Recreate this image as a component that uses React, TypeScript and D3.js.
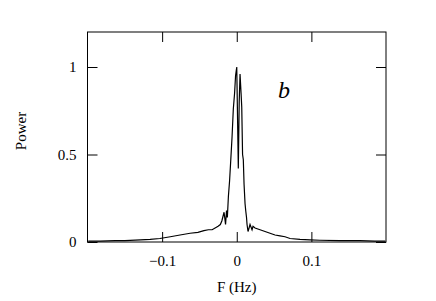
import React, { useEffect, useRef } from 'react';
import * as d3 from 'd3';

// frequency (Hz) and normalised power
const freq = [
  -0.199, -0.183, -0.163, -0.15, -0.129, -0.116, -0.103, -0.089, -0.076, -0.0625,
  -0.052, -0.044, -0.038, -0.033, -0.029, -0.025, -0.022, -0.02, -0.017, -0.015,
  -0.0137, -0.0126, -0.0112, -0.0096, -0.008, -0.0063, -0.0046, -0.0029, -0.0016, 0,
  0.0011, 0.0021, 0.0033, 0.0044, 0.0058, 0.0067, 0.0078, 0.0088, 0.0098, 0.0111,
  0.012, 0.0131, 0.0138, 0.0151, 0.0165, 0.0178, 0.0205, 0.0218, 0.0245, 0.0312,
  0.0379, 0.0446, 0.0513, 0.058, 0.0647, 0.0714, 0.0847, 0.098, 0.1115, 0.138,
  0.165, 0.185, 0.199,
];
const power = [
  0.005, 0.005, 0.008, 0.008, 0.012, 0.015, 0.02, 0.03, 0.04, 0.05,
  0.055, 0.065, 0.07, 0.07, 0.08, 0.09, 0.1, 0.12, 0.17, 0.1,
  0.18, 0.14, 0.26, 0.35, 0.47, 0.6, 0.76, 0.85, 0.95, 1.0,
  0.7, 0.42, 0.8, 0.96, 0.85, 0.77, 0.5, 0.47, 0.33, 0.22,
  0.18, 0.14, 0.1, 0.06, 0.08, 0.1, 0.07, 0.09, 0.08, 0.07,
  0.06, 0.05, 0.04, 0.035, 0.03, 0.02, 0.015, 0.012, 0.01, 0.008,
  0.008, 0.005, 0.005,
];
const xTicks = [-0.1, 0, 0.1];
const yTicks = [0, 0.5, 1];

const App = () => {
  const svgRef = useRef<SVGSVGElement>(null);

  useEffect(() => {
    const svg = d3.select(svgRef.current);
    svg.selectAll('*').remove();

    const margin = { top: 32, right: 50, bottom: 59, left: 87.5 };
    const W = 436, H = 301;
    const x = d3.scaleLinear().domain([-0.2, 0.2]).range([margin.left, W - margin.right]);
    const y = d3.scaleLinear().domain([0, 1.2]).range([H - margin.bottom, margin.top]);
    const font = '"Liberation Serif", "Times New Roman", serif';

    const data = freq.map((f, i) => [f, power[i]] as [number, number]);
    const line = d3.line<[number, number]>().x(d => x(d[0])).y(d => y(d[1]));

    svg.append('path')
      .datum(data)
      .attr('d', line)
      .attr('fill', 'none')
      .attr('stroke', '#000')
      .attr('stroke-width', 1.2);

    // frame
    svg.append('rect')
      .attr('x', x(-0.2)).attr('y', y(1.2))
      .attr('width', x(0.2) - x(-0.2)).attr('height', y(0) - y(1.2))
      .attr('fill', 'none').attr('stroke', '#000').attr('stroke-width', 1);

    const tl = 10;
    // inward ticks on all four sides
    svg.append('g').call(d3.axisBottom(x).tickValues(xTicks).tickSizeInner(-tl).tickSizeOuter(0))
      .attr('transform', `translate(0,${y(0)})`)
      .attr('font-family', null).attr('font-size', null)
      .call(g => g.select('.domain').remove())
      .call(g => g.selectAll('text').attr('dy', '1.1em').attr('y', 7)
        .style('font-family', font).style('font-size', '15px').attr('fill', '#000')
        .text((d: any) => (d === 0 ? '0' : d3.format('.1f')(d).replace('-', '\u2212'))));
    svg.append('g').call(d3.axisTop(x).tickValues(xTicks).tickSizeInner(-tl).tickSizeOuter(0).tickFormat(() => ''))
      .attr('transform', `translate(0,${y(1.2)})`)
      .call(g => g.select('.domain').remove());
    svg.append('g').call(d3.axisLeft(y).tickValues(yTicks).tickSizeInner(-tl).tickSizeOuter(0).tickFormat(d3.format('')))
      .attr('transform', `translate(${x(-0.2)},0)`)
      .attr('font-family', null).attr('font-size', null)
      .call(g => g.select('.domain').remove())
      .call(g => g.selectAll('text').attr('x', -11)
        .style('font-family', font).style('font-size', '15px').attr('fill', '#000'));
    svg.append('g').call(d3.axisRight(y).tickValues(yTicks).tickSizeInner(-tl).tickSizeOuter(0).tickFormat(() => ''))
      .attr('transform', `translate(${x(0.2)},0)`)
      .call(g => g.select('.domain').remove());

    svg.append('text')
      .attr('x', x(0)).attr('y', 292)
      .attr('text-anchor', 'middle')
      .style('font-family', font).style('font-size', '15px')
      .text('F (Hz)');

    svg.append('text')
      .attr('transform', `translate(26,${(y(0) + y(1.2)) / 2 - 6}) rotate(-90)`)
      .attr('text-anchor', 'middle')
      .style('font-family', font).style('font-size', '15px')
      .text('Power');

    svg.append('text')
      .attr('x', 278).attr('y', 98)
      .style('font-family', font).style('font-size', '24px').style('font-style', 'italic')
      .text('b');
  }, []);

  return (
    <svg ref={svgRef} width={436} height={301} style={{ position: 'absolute', left: 0, top: 0, background: '#fff' }} />
  );
};

export default App;
